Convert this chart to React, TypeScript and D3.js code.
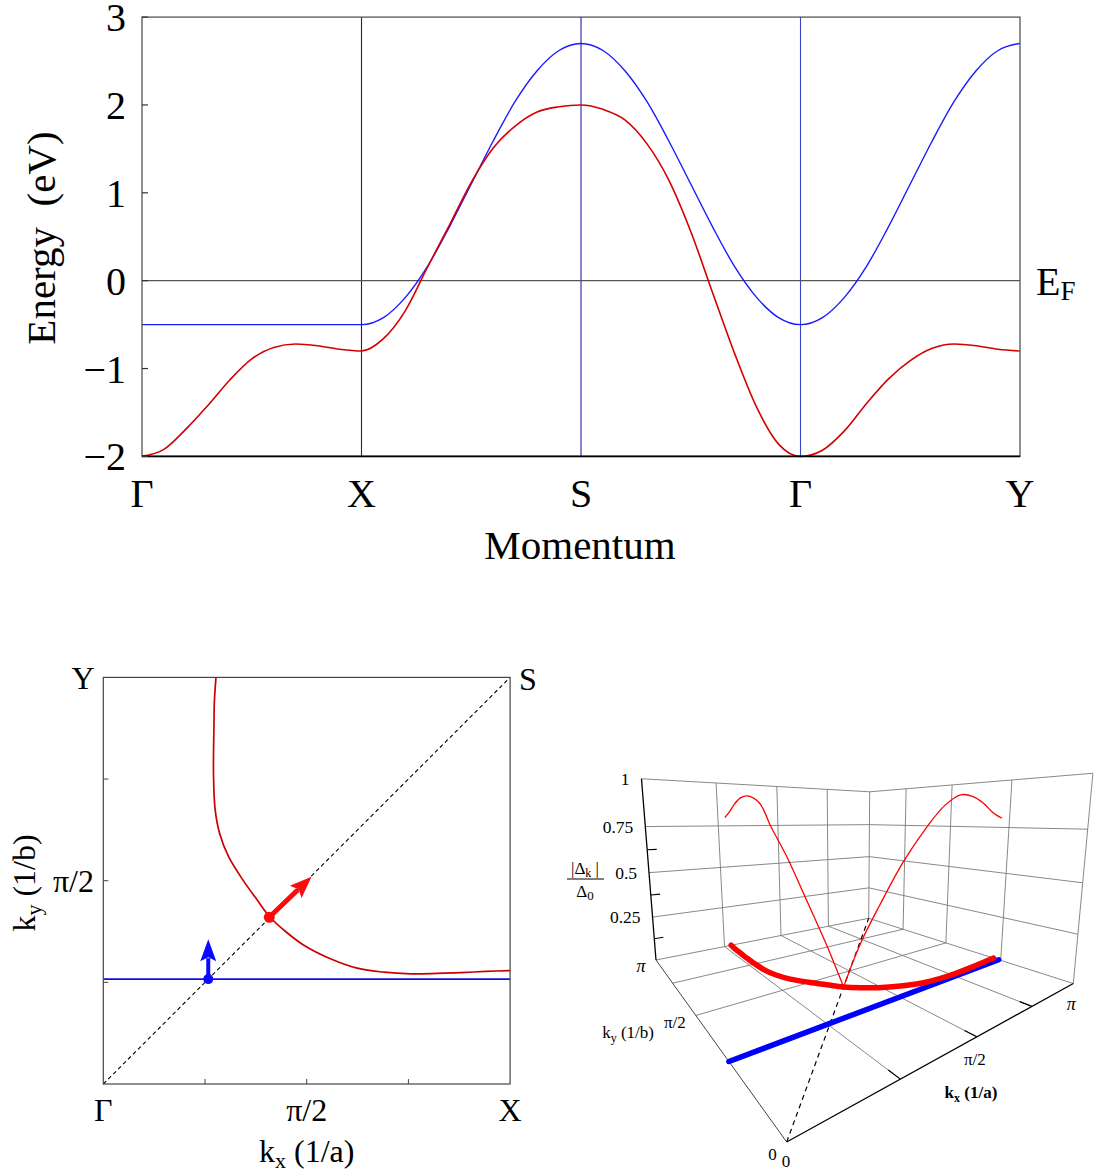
import React from "react";
import * as d3 from "d3";

// ---------------- Data ----------------
// Top panel: band structure along Γ–X–S–Γ–Y (path coordinate, eV)
const pathLabels = ["Γ", "X", "S", "Γ", "Y"];
const pathPositions = [0, 1, 2, 3, 4];
const energyTicks = [-2, -1, 0, 1, 2, 3];

const blueBandK = [0, 0.5, 1, 1.1, 1.2, 1.3, 1.4, 1.5, 1.6, 1.7, 1.8, 1.9, 2, 2.1, 2.2, 2.3, 2.4, 2.5, 2.6, 2.7, 2.8, 2.9, 3, 3.1, 3.2, 3.3, 3.4, 3.5, 3.6, 3.7, 3.8, 3.9, 4];
const blueBandE = [-0.5, -0.5, -0.5, -0.42, -0.19, 0.16, 0.61, 1.1, 1.59, 2.04, 2.39, 2.62, 2.7, 2.62, 2.39, 2.04, 1.59, 1.1, 0.61, 0.16, -0.19, -0.42, -0.5, -0.42, -0.19, 0.16, 0.61, 1.1, 1.59, 2.04, 2.39, 2.62, 2.7];

const redBandK = [0, 0.1, 0.2, 0.3, 0.4, 0.5, 0.6, 0.7, 0.8, 0.9, 1, 1.1, 1.2, 1.3, 1.4, 1.5, 1.6, 1.7, 1.8, 1.9, 2, 2.1, 2.2, 2.3, 2.4, 2.5, 2.6, 2.7, 2.8, 2.9, 3, 3.1, 3.2, 3.3, 3.4, 3.5, 3.6, 3.7, 3.8, 3.9, 4];
const redBandE = [-2.0, -1.92, -1.69, -1.42, -1.13, -0.89, -0.76, -0.72, -0.74, -0.78, -0.8, -0.66, -0.34, 0.15, 0.63, 1.12, 1.51, 1.76, 1.92, 1.98, 2.0, 1.95, 1.83, 1.56, 1.145, 0.56, -0.14, -0.83, -1.44, -1.86, -2.0, -1.93, -1.71, -1.4, -1.12, -0.91, -0.77, -0.72, -0.74, -0.78, -0.8];

// Bottom panels: Fermi surface (kx, ky in units of π) and gap along it
const redFsKx = [0.277, 0.273, 0.272, 0.271, 0.271, 0.275, 0.286, 0.308, 0.343, 0.378, 0.41, 0.448, 0.492, 0.554, 0.624, 0.69, 0.756, 0.82, 0.88, 0.94, 1.0];
const redFsKy = [1.0, 0.94, 0.879, 0.816, 0.756, 0.674, 0.616, 0.559, 0.502, 0.453, 0.41, 0.375, 0.342, 0.31, 0.285, 0.275, 0.271, 0.272, 0.274, 0.277, 0.279];
const redFsGap = [0.8, 0.83, 0.875, 0.905, 0.91, 0.87, 0.75, 0.61, 0.4, 0.2, 0, 0.22, 0.4, 0.6, 0.76, 0.86, 0.91, 0.905, 0.875, 0.83, 0.8];
const gapNodeIndex = 10;
const blueFsKy = 0.258;

// Arrows in the kx-ky plane (start point, end point)
const blueArrowFrom = [0.258, 0.258];
const blueArrowTo = [0.258, 0.356];
const redArrowFrom = [0.408, 0.41];
const redArrowTo = [0.512, 0.51];

const quarterTicks = [0.25, 0.5, 0.75];
const gapTicks = [0.25, 0.5, 0.75, 1];
const gapTickLabels = ["0.25", "0.5", "0.75", "1"];
const gapMinorTicks = [0.125, 0.375, 0.625];

const FONT = "'Liberation Serif','Times New Roman',serif";

// ---------------- helpers ----------------
function solve(A: number[][], b: number[]): number[] {
  const n = b.length;
  const M = A.map((r, i) => [...r, b[i]]);
  for (let c = 0; c < n; c++) {
    let p = c;
    for (let r = c + 1; r < n; r++) if (Math.abs(M[r][c]) > Math.abs(M[p][c])) p = r;
    const t = M[c]; M[c] = M[p]; M[p] = t;
    for (let r = 0; r < n; r++) {
      if (r === c) continue;
      const f = M[r][c] / M[c][c];
      for (let k = c; k <= n; k++) M[r][k] -= f * M[c][k];
    }
  }
  return M.map((r, i) => r[n] / r[i]);
}

// perspective camera for the 3D box, fitted to the box corners (layout)
const floorAnchors = [
  [0, 0, 786.7, 1142],
  [1, 0, 1073.3, 983.5],
  [0, 1, 656, 960],
  [1, 1, 868.7, 918.3],
];
const topAnchors = [
  [0, 1, 641.7, 780],
  [1, 1, 869.3, 790.5],
  [1, 0, 1093.3, 774],
];

function buildCamera() {
  const A: number[][] = [];
  const b: number[] = [];
  floorAnchors.forEach(([u, v, X, Y]) => {
    A.push([u, v, 1, 0, 0, 0, -u * X, -v * X]); b.push(X);
    A.push([0, 0, 0, u, v, 1, -u * Y, -v * Y]); b.push(Y);
  });
  const h = solve(A, b);
  const H = [[h[0], h[1], h[2]], [h[3], h[4], h[5]], [h[6], h[7], 1]];
  const hom = (u: number, v: number) => H.map((r) => r[0] * u + r[1] * v + r[2]);
  const rows: number[][] = [];
  const rhs: number[] = [];
  topAnchors.forEach(([u, v, X, Y]) => {
    const p = hom(u, v);
    rows.push([1, 0, -X]); rhs.push(X * p[2] - p[0]);
    rows.push([0, 1, -Y]); rhs.push(Y * p[2] - p[1]);
  });
  const NtN = [0, 1, 2].map((i) => [0, 1, 2].map((j) => rows.reduce((s, r) => s + r[i] * r[j], 0)));
  const Ntb = [0, 1, 2].map((i) => rows.reduce((s, r, k) => s + r[i] * rhs[k], 0));
  const col = solve(NtN, Ntb);
  return (u: number, v: number, w: number): [number, number] => {
    const p = hom(u, v);
    const X = p[0] + col[0] * w;
    const Y = p[1] + col[1] * w;
    const Z = p[2] + col[2] * w;
    return [X / Z, Y / Z];
  };
}

function Arrow({ from, to, color, shaft, headLen, headW, dotR }: any) {
  const [x1, y1] = from;
  const [x2, y2] = to;
  const dx = x2 - x1, dy = y2 - y1;
  const L = Math.hypot(dx, dy);
  const ux = dx / L, uy = dy / L;
  const px = -uy, py = ux;
  const bx = x2 - ux * headLen, by = y2 - uy * headLen;
  const pts = [
    [x2, y2],
    [bx + px * headW / 2, by + py * headW / 2],
    [bx + ux * headLen * 0.18, by + uy * headLen * 0.18],
    [bx - px * headW / 2, by - py * headW / 2],
  ];
  return (
    <g>
      <line x1={x1} y1={y1} x2={bx + ux * 3} y2={by + uy * 3} stroke={color} strokeWidth={shaft} />
      <polygon points={pts.map((p) => p.join(",")).join(" ")} fill={color} />
      <circle cx={x1} cy={y1} r={dotR} fill={color} />
    </g>
  );
}

export default function App() {
  // ---------- top panel ----------
  const xT = d3.scaleLinear().domain([0, 4]).range([142, 1020]);
  const yT = d3.scaleLinear().domain([-2, 3]).range([456.4, 17.1]);
  const bandLine = d3
    .line<[number, number]>()
    .x((d) => xT(d[0]))
    .y((d) => yT(d[1]))
    .curve(d3.curveMonotoneX);
  const bluePts = blueBandK.map((k, i) => [k, blueBandE[i]] as [number, number]);
  const redPts = redBandK.map((k, i) => [k, redBandE[i]] as [number, number]);
  const vlineColors = ["", "#1a1a8a", "#1f22a0", "#3a46c8", ""];

  // ---------- bottom-left panel ----------
  const xF = d3.scaleLinear().domain([0, 1]).range([103.3, 510.1]);
  const yF = d3.scaleLinear().domain([0, 1]).range([1084, 677.4]);
  const fsPts = redFsKx.map((k, i) => [k, redFsKy[i]] as [number, number]);
  const fsLine = d3
    .line<[number, number]>()
    .x((d) => xF(d[0]))
    .y((d) => yF(d[1]))
    .curve(d3.curveCatmullRom.alpha(0.5));

  // ---------- 3D panel ----------
  const P = buildCamera();
  const gapScale = d3.scaleLinear().domain([0, 1]).range([0, 1]);
  const scr = d3
    .line<[number, number]>()
    .x((d) => d[0])
    .y((d) => d[1])
    .curve(d3.curveCatmullRom.alpha(0.5));
  const seg = (a: [number, number], b: [number, number], props: any, key: string) => (
    <line key={key} x1={a[0]} y1={a[1]} x2={b[0]} y2={b[1]} {...props} />
  );
  const gridStyle = { stroke: "#7a7a7a", strokeWidth: 0.9 };
  const grid: any[] = [];
  quarterTicks.forEach((s, i) => {
    grid.push(seg(P(s, 0, 0), P(s, 1, 0), gridStyle, "fu" + i));
    grid.push(seg(P(0, s, 0), P(1, s, 0), gridStyle, "fv" + i));
    grid.push(seg(P(s, 1, 0), P(s, 1, 1), gridStyle, "lw" + i));
    grid.push(seg(P(1, s, 0), P(1, s, 1), gridStyle, "rw" + i));
    grid.push(seg(P(0, 1, s), P(1, 1, s), gridStyle, "lh" + i));
    grid.push(seg(P(1, 0, s), P(1, 1, s), gridStyle, "rh" + i));
  });
  const edges = [
    seg(P(0, 1, 0), P(1, 1, 0), gridStyle, "e1"),
    seg(P(1, 0, 0), P(1, 1, 0), gridStyle, "e2"),
    seg(P(1, 1, 0), P(1, 1, 1), gridStyle, "e3"),
    seg(P(1, 0, 0), P(1, 0, 1), gridStyle, "e4"),
    seg(P(0, 1, 1), P(1, 1, 1), gridStyle, "e5"),
    seg(P(1, 0, 1), P(1, 1, 1), gridStyle, "e6"),
    seg(P(0, 0, 0), P(0, 1, 0), { stroke: "#444", strokeWidth: 1 }, "e7"),
  ];
  const axes = [
    seg(P(0, 0, 0), P(1, 0, 0), { stroke: "#000", strokeWidth: 1.3 }, "a1"),
    seg(P(0, 1, 0), P(0, 1, 1), { stroke: "#000", strokeWidth: 1.3 }, "a2"),
    ...quarterTicks.map((s, i) => seg(P(s, 0, 0), P(s, 0.035, 0), { stroke: "#000", strokeWidth: 1.2 }, "kt" + i)),
    ...gapMinorTicks.map((w, i) => seg(P(0, 1, gapScale(w)), P(0.03, 1, gapScale(w)), { stroke: "#000", strokeWidth: 1.1 }, "gt" + i)),
  ];
  const fsFloor = redFsKx.map((k, i) => P(k, redFsKy[i], 0));
  const gapPts = redFsKx.map((k, i) => P(k, redFsKy[i], gapScale(redFsGap[i])));
  const gapLeft = gapPts.slice(0, gapNodeIndex + 1);
  const gapRight = gapPts.slice(gapNodeIndex);
  const blueA = P(0, blueFsKy, 0);
  const blueB = P(1, blueFsKy, 0);
  const diagA = P(0, 0, 0);
  const diagD = P(1, 1, 0);

  const cL = P(0, 1, 0);
  const kxHalf = P(0.5, 0, 0);
  const kxFull = P(1, 0, 0);
  const kyHalf = P(0, 0.5, 0);

  return (
    <svg
      width={1095}
      height={1174}
      style={{ position: "absolute", left: 0, top: 0, background: "#fff" }}
      fontFamily={FONT}
    >
      <rect x={0} y={0} width={1095} height={1174} fill="#fff" />

      {/* ================= TOP PANEL ================= */}
      <g>
        {pathPositions.map((p, i) =>
          vlineColors[i] ? (
            <line key={"v" + i} x1={xT(p)} x2={xT(p)} y1={yT(3)} y2={yT(-2)} stroke={vlineColors[i]} strokeWidth={1.1} />
          ) : null
        )}
        <line x1={xT(0)} x2={xT(4)} y1={yT(0)} y2={yT(0)} stroke="#555" strokeWidth={1.3} />
        <path d={bandLine(bluePts) || ""} fill="none" stroke="#1a1aff" strokeWidth={1.4} />
        <path d={bandLine(redPts) || ""} fill="none" stroke="#d40000" strokeWidth={1.6} />
        <rect x={xT(0)} y={yT(3)} width={xT(4) - xT(0)} height={yT(-2) - yT(3)} fill="none" stroke="#555" strokeWidth={1.3} />
        <line x1={xT(0)} x2={xT(4)} y1={yT(-2)} y2={yT(-2)} stroke="#000" strokeWidth={1.6} />
        {energyTicks.map((t) => (
          <g key={"et" + t}>
            <line x1={xT(0)} x2={xT(0) + 6} y1={yT(t)} y2={yT(t)} stroke="#333" strokeWidth={1.2} />
            <text x={126} y={yT(t) + 14} textAnchor="end" fontSize={40}>
              {t < 0 ? "\u2212" + Math.abs(t) : String(t)}
            </text>
          </g>
        ))}
        {pathPositions.map((p, i) => (
          <text key={"pl" + i} x={xT(p)} y={507} textAnchor="middle" fontSize={40}>
            {pathLabels[i]}
          </text>
        ))}
        <text x={580} y={559} textAnchor="middle" fontSize={41}>Momentum</text>
        <text transform="translate(55,238) rotate(-90)" textAnchor="middle" fontSize={41} style={{ whiteSpace: "pre" }}>
          Energy  (eV)
        </text>
        <text x={1036} y={295} fontSize={40}>
          E<tspan fontSize={27} dy={5}>F</tspan>
        </text>
      </g>

      {/* ================= BOTTOM-LEFT PANEL ================= */}
      <g>
        <line x1={xF(0)} y1={yF(0)} x2={xF(1)} y2={yF(1)} stroke="#000" strokeWidth={1.1} strokeDasharray="4,3" />
        <line x1={xF(0)} x2={xF(1)} y1={yF(blueFsKy)} y2={yF(blueFsKy)} stroke="#1010e0" strokeWidth={1.6} />
        <path d={fsLine(fsPts) || ""} fill="none" stroke="#cc0000" strokeWidth={1.7} />
        <rect x={xF(0)} y={yF(1)} width={xF(1) - xF(0)} height={yF(0) - yF(1)} fill="none" stroke="#444" strokeWidth={1.2} />
        {quarterTicks.map((t) => (
          <g key={"qt" + t}>
            <line x1={xF(t)} x2={xF(t)} y1={yF(0)} y2={yF(0) - 5} stroke="#444" strokeWidth={1} />
            <line x1={xF(0)} x2={xF(0) + 5} y1={yF(t)} y2={yF(t)} stroke="#444" strokeWidth={1} />
          </g>
        ))}
        <Arrow
          from={[xF(blueArrowFrom[0]), yF(blueArrowFrom[1])]}
          to={[xF(blueArrowTo[0]), yF(blueArrowTo[1])]}
          color="#0a0aff"
          shaft={4}
          headLen={22}
          headW={16}
          dotR={5}
        />
        <Arrow
          from={[xF(redArrowFrom[0]), yF(redArrowFrom[1])]}
          to={[xF(redArrowTo[0]), yF(redArrowTo[1])]}
          color="#ff0a0a"
          shaft={5}
          headLen={22}
          headW={17}
          dotR={5.5}
        />
        <text x={83} y={689} textAnchor="middle" fontSize={32}>Y</text>
        <text x={528} y={690} textAnchor="middle" fontSize={32}>S</text>
        <text x={xF(0)} y={1121} textAnchor="middle" fontSize={32}>Γ</text>
        <text x={xF(0.5)} y={1121} textAnchor="middle" fontSize={32}>π/2</text>
        <text x={xF(1)} y={1121} textAnchor="middle" fontSize={32}>X</text>
        <text x={94} y={yF(0.5) + 11} textAnchor="end" fontSize={32}>π/2</text>
        <text x={xF(0.5)} y={1162} textAnchor="middle" fontSize={32}>
          k<tspan fontSize={22} dy={6}>x</tspan>
          <tspan dy={-6}>{" (1/a)"}</tspan>
        </text>
        <text transform="translate(35,883) rotate(-90)" textAnchor="middle" fontSize={32}>
          k<tspan fontSize={22} dy={6}>y</tspan>
          <tspan dy={-6}>{" (1/b)"}</tspan>
        </text>
      </g>

      {/* ================= 3D PANEL ================= */}
      <g>
        {grid}
        {edges}
        <line x1={diagA[0]} y1={diagA[1]} x2={diagD[0]} y2={diagD[1]} stroke="#000" strokeWidth={1.2} strokeDasharray="5,4" />
        {axes}
        <line x1={blueA[0]} y1={blueA[1]} x2={blueB[0]} y2={blueB[1]} stroke="#0000ff" strokeWidth={5.5} strokeLinecap="round" />
        <path d={scr(fsFloor) || ""} fill="none" stroke="#ff0000" strokeWidth={5.5} strokeLinecap="round" />
        <path d={scr(gapLeft) || ""} fill="none" stroke="#ff0000" strokeWidth={1.3} />
        <path d={scr(gapRight) || ""} fill="none" stroke="#ff0000" strokeWidth={1.3} />

        {gapTicks.map((w, i) => {
          const p = P(0, 1, gapScale(w));
          return (
            <text key={"gl" + i} x={p[0] - 12} y={p[1] + 6} textAnchor="end" fontSize={17.5}>
              {gapTickLabels[i]}
            </text>
          );
        })}
        <text x={585} y={874} textAnchor="middle" fontSize={17}>
          |Δ<tspan fontSize={12} dy={3}>k</tspan>
          <tspan dy={-3}>{" |"}</tspan>
        </text>
        <line x1={567} x2={604} y1={879} y2={879} stroke="#000" strokeWidth={1} />
        <text x={585} y={897} textAnchor="middle" fontSize={17}>
          Δ<tspan fontSize={13} dy={3}>0</tspan>
        </text>

        <text x={cL[0] - 15} y={cL[1] + 12} textAnchor="middle" fontSize={18} fontStyle="italic">π</text>
        <text x={kyHalf[0] - 10} y={kyHalf[1] + 13} textAnchor="end" fontSize={17}>π/2</text>
        <text x={654} y={1038} textAnchor="end" fontSize={17}>
          k<tspan fontSize={12} dy={4}>y</tspan>
          <tspan dy={-4}>{" (1/b)"}</tspan>
        </text>
        <text x={kxFull[0] - 2} y={kxFull[1] + 26} textAnchor="middle" fontSize={18} fontStyle="italic">π</text>
        <text x={kxHalf[0] - 2} y={kxHalf[1] + 28} textAnchor="middle" fontSize={17}>π/2</text>
        <text x={971} y={1098} textAnchor="middle" fontSize={17} fontWeight="bold">
          k<tspan fontSize={12} dy={4}>x</tspan>
          <tspan dy={-4}>{" (1/a)"}</tspan>
        </text>
        <text x={772.5} y={1160} textAnchor="middle" fontSize={17}>0</text>
        <text x={786} y={1167} textAnchor="middle" fontSize={17}>0</text>
      </g>
    </svg>
  );
}
